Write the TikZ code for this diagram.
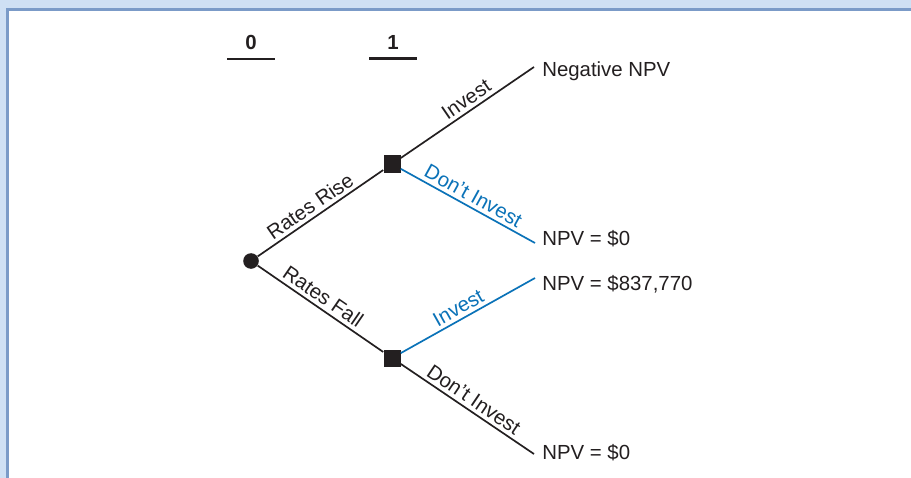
\documentclass[tikz,border=0pt]{standalone}
\usepackage{fontspec}
\setmainfont{Liberation Sans}
\usepackage{tikz}
\usetikzlibrary{positioning,calc}

\definecolor{panelblue}{HTML}{CFE0F4}
\definecolor{frameblue}{HTML}{7B9BC8}
\definecolor{optblue}{HTML}{0A72B8}
\definecolor{inkgray}{HTML}{231F20}

\begin{document}
\begin{tikzpicture}[
        x=0.025cm, y=-0.025cm,
        every node/.style={font=\fontsize{14.5}{17}\selectfont, text=inkgray},
        chance/.style={circle, fill=inkgray, minimum size=0.39cm, inner sep=0pt},
        decision/.style={rectangle, fill=inkgray, minimum size=0.425cm, inner sep=0pt},
        branch/.style={line width=1.2pt, draw=inkgray},
        optbranch/.style={line width=1.2pt, draw=optblue},
        branchlabel/.style={above, sloped, inner sep=2.5pt},
        payoff/.style={anchor=base west, inner sep=0pt},
        steplabel/.style={font=\fontsize{14.5}{17}\selectfont\bfseries, minimum width=1.18cm, inner ysep=6.2pt},
        rulebar/.style={line width=1.7pt, draw=inkgray}
        ]
        \useasboundingbox (0,0) rectangle (911,478);

        % Panel frame
        \fill[panelblue] (0,0) rectangle (911,478);
        \fill[white] (9,11) rectangle (911,478);
        \draw[frameblue, line width=2.4pt] (7.5,478) -- (7.5,9.5) -- (911,9.5);

        % Time periods
        \node[steplabel] (t0) at (251,42.5) {0};
        \node[steplabel] (t1) at (393,42.5) {1};
        \draw[rulebar] (t0.south west) -- (t0.south east);
        \draw[rulebar] (t1.south west) -- (t1.south east);

        % Tree nodes
        \node[chance] (root) at (251,261) {};
        \node[decision] (riseD) at (392,164) {};
        \node[decision] (fallD) at (392,358) {};

        % Branch ends
        \coordinate (riseInv) at (534,67);
        \coordinate (riseNo) at (535,243);
        \coordinate (fallInv) at (535,278);
        \coordinate (fallNo) at (534,454);

        % Payoffs
        \node[payoff] (negNPV) at (542,76.5) {Negative NPV};
        \node[payoff] (riseZero) at (542,245) {NPV = \$0};
        \node[payoff] (fallNPV) at (542,290) {NPV = \$837,770};
        \node[payoff] (fallZero) at (542,459) {NPV = \$0};

        % Branches
        \draw[branch] (root) -- node[branchlabel, pos=0.47] {Rates Rise} (riseD);
        \draw[branch] (root) -- node[branchlabel, pos=0.47] {Rates Fall} (fallD);
        \draw[branch] (riseD) -- node[branchlabel, pos=0.54] {Invest} (riseInv);
        \draw[optbranch] (riseD) -- node[branchlabel, pos=0.5, text=optblue] {Don’t Invest} (riseNo);
        \draw[optbranch] (fallD) -- node[branchlabel, pos=0.47, text=optblue] {Invest} (fallInv);
        \draw[branch] (fallD) -- node[branchlabel, pos=0.5] {Don’t Invest} (fallNo);

    \end{tikzpicture}
\end{document}
